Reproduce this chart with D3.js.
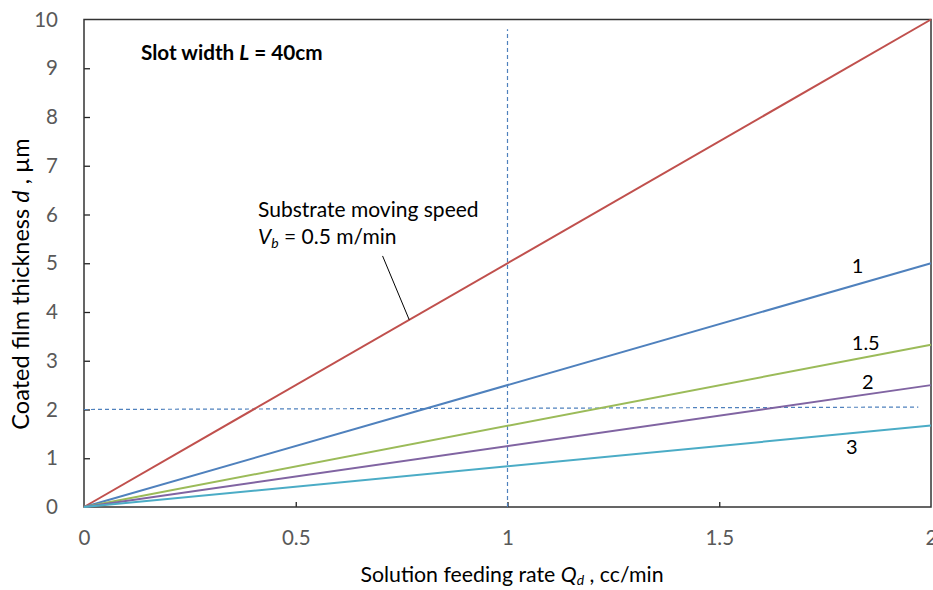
<!DOCTYPE html>
<html>
<head>
<meta charset="utf-8">
<script src="https://cdn.jsdelivr.net/npm/d3@7"></script>
<style>
  body { margin: 0; background: #fff; }
  svg { font-family: Lato, "Open Sans", sans-serif; }
</style>
</head>
<body>
<svg id="chart" width="933" height="590"></svg>
<script>
// substrate speeds (m/min) and their line colours
const speeds = [0.5, 1, 1.5, 2, 3];
const speedLabels = ["", "1", "1.5", "2", "3"];
const colors = ["#c0504d", "#4f81bd", "#9bbb59", "#8064a2", "#4bacc6"];
// feeding rate end points (cc/min)
const qValues = [0, 2];
// thickness at Q = 2, per speed
const dAtTwo = [10, 5, 3.33, 2.5, 1.67];
const xTicks = [0, 0.5, 1, 1.5, 2];
const yTicks = [0, 1, 2, 3, 4, 5, 6, 7, 8, 9, 10];
// guide lines
const vGuide = [[1, 0], [1, 9.8]];
const hGuide = [[0, 2], [1.97, 2.05]];

let margin = { top: 19.5, right: 2, bottom: 83, left: 84 };
let width = 933 - margin.left - margin.right;
let height = 590 - margin.top - margin.bottom;

let svg = d3.select("#chart");
let g = svg.append("g")
  .attr("transform", "translate(" + margin.left + "," + margin.top + ")");

let x = d3.scaleLinear().domain([0, 2]).range([0, width]);
let y = d3.scaleLinear().domain([0, 10]).range([height, 0]);

// axes
let yAxis = g.append("g")
  .call(d3.axisLeft(y).tickValues(yTicks).tickSizeInner(-6).tickSizeOuter(0).tickPadding(26));
let xAxis = g.append("g")
  .attr("transform", "translate(0," + height + ")")
  .call(d3.axisBottom(x).tickValues(xTicks).tickFormat(d3.format("")).tickSizeInner(-5).tickSizeOuter(0).tickPadding(23));

[xAxis, yAxis].forEach(a => {
  a.select(".domain").remove();
  a.selectAll(".tick line").attr("stroke", "#222").attr("stroke-width", 1.3);
  a.selectAll(".tick text").attr("fill", "#595959").attr("font-size", 20.5)
    .attr("font-family", "Lato, 'Open Sans', sans-serif");
});
xAxis.selectAll(".tick line").filter(d => d === 0 || d === 2).remove();
yAxis.selectAll(".tick line").filter(d => d === 0 || d === 10).remove();

// frame
g.append("rect")
  .attr("x", 0).attr("y", 0)
  .attr("width", width).attr("height", height)
  .attr("fill", "none").attr("stroke", "#333").attr("stroke-width", 1.5);

// dashed guides
let line = d3.line().x(d => x(d[0])).y(d => y(d[1]));
[vGuide, hGuide].forEach(p => {
  g.append("path")
    .attr("d", line(p))
    .attr("fill", "none")
    .attr("stroke", "#4f81bd")
    .attr("stroke-width", 1.2)
    .attr("stroke-dasharray", "4,3");
});

// series lines
speeds.forEach((v, i) => {
  let pts = qValues.map(q => [q, q === 0 ? 0 : dAtTwo[i]]);
  g.append("path")
    .attr("d", line(pts))
    .attr("fill", "none")
    .attr("stroke", colors[i])
    .attr("stroke-width", 2);
});

// series labels
const labelPos = [null, [1.813, 4.79], [1.813, 3.23], [1.837, 2.42], [1.799, 1.08]];
speedLabels.forEach((t, i) => {
  if (!t) return;
  g.append("text")
    .attr("x", x(labelPos[i][0]))
    .attr("y", y(labelPos[i][1]))
    .attr("font-size", 20)
    .attr("fill", "#000")
    .text(t);
});

// annotation
g.append("text")
  .attr("x", 57).attr("y", 40)
  .attr("font-size", 20.7).attr("font-weight", "bold")
  .html("Slot width <tspan font-style='italic'>L</tspan> = 40cm");

g.append("text")
  .attr("x", 174).attr("y", 197)
  .attr("font-size", 21)
  .text("Substrate moving speed");
let vb = g.append("text")
  .attr("x", 174).attr("y", 224)
  .attr("font-size", 21);
vb.append("tspan").attr("font-style", "italic").text("V");
vb.append("tspan").attr("font-style", "italic").attr("font-size", 14).attr("dy", 4).text("b");
vb.append("tspan").attr("dy", -4).text(" = 0.5 m/min");

g.append("line")
  .attr("x1", x(0.705)).attr("y1", y(5.15))
  .attr("x2", x(0.768)).attr("y2", y(3.84))
  .attr("stroke", "#000").attr("stroke-width", 1);

// axis titles
let xt = svg.append("text")
  .attr("x", 512)
  .attr("y", 582)
  .attr("text-anchor", "middle")
  .attr("font-size", 21.3);
xt.append("tspan").text("Solution feeding rate ");
xt.append("tspan").attr("font-style", "italic").text("Q");
xt.append("tspan").attr("font-style", "italic").attr("font-size", 14).attr("dy", 3).text("d");
xt.append("tspan").attr("dy", -3).text(" , cc/min");

let yt = svg.append("text")
  .attr("transform", "translate(29,284) rotate(-90)")
  .attr("text-anchor", "middle")
  .attr("font-size", 23.5);
yt.append("tspan").text("Coated film thickness ");
yt.append("tspan").attr("font-style", "italic").text("d");
yt.append("tspan").text(" , \u00b5m");
</script>
</body>
</html>
